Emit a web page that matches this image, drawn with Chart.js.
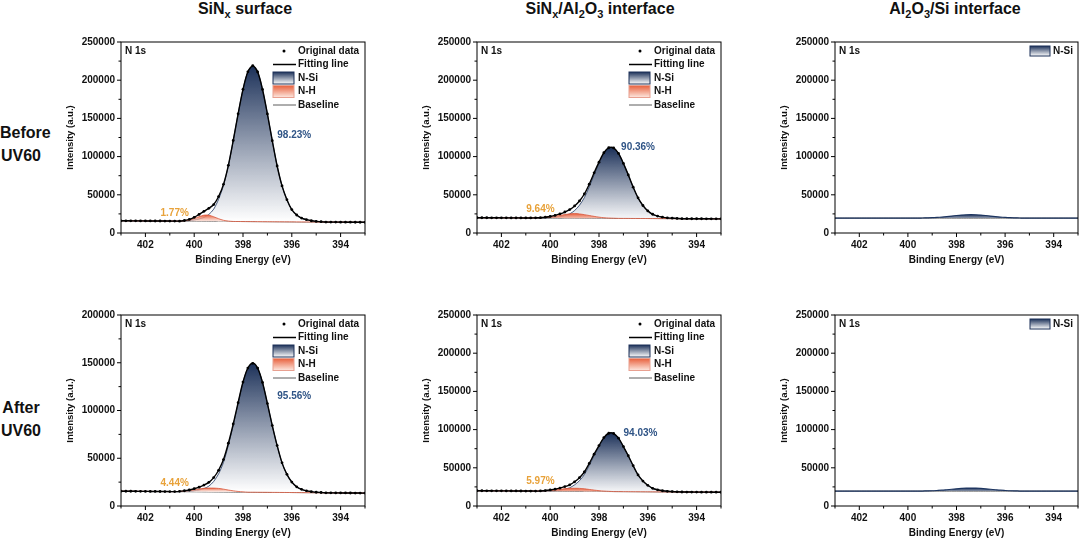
<!DOCTYPE html>
<html><head><meta charset="utf-8">
<script src="https://cdn.jsdelivr.net/npm/chart.js@4"></script>
<style>
body{margin:0;width:1080px;height:540px;background:#fff;font-family:"Liberation Sans",Arial,sans-serif;position:relative;overflow:hidden}
.c{position:absolute}
.t{position:absolute;font-weight:bold;font-size:16px;text-align:center;color:#111}
.r{position:absolute;font-weight:bold;font-size:16px;text-align:center;color:#111;line-height:23px}
sub{font-size:11px}
</style></head><body>
<div class="t" style="left:120px;top:0;width:250px">SiN<sub>x</sub> surface</div>
<div class="t" style="left:470px;top:0;width:260px">SiN<sub>x</sub>/Al<sub>2</sub>O<sub>3</sub> interface</div>
<div class="t" style="left:830px;top:0;width:250px">Al<sub>2</sub>O<sub>3</sub>/Si interface</div>
<div class="r" style="left:0;top:121px;width:42px">Before<br>UV60</div>
<div class="r" style="left:0;top:396px;width:42px">After<br>UV60</div>
<div class="c" style="left:61px;top:30px;width:308px;height:240px"><canvas id="p0"></canvas></div>
<div class="c" style="left:417px;top:30px;width:308px;height:240px"><canvas id="p1"></canvas></div>
<div class="c" style="left:775px;top:30px;width:305px;height:240px"><canvas id="p2"></canvas></div>
<div class="c" style="left:61px;top:303px;width:308px;height:240px"><canvas id="p3"></canvas></div>
<div class="c" style="left:417px;top:303px;width:308px;height:240px"><canvas id="p4"></canvas></div>
<div class="c" style="left:775px;top:303px;width:305px;height:240px"><canvas id="p5"></canvas></div>
<script>
// Binding energy grid (eV), 403 -> 393 step 0.2
const energy = [403,402.8,402.6,402.4,402.2,402,401.8,401.6,401.4,401.2,401,400.8,400.6,400.4,400.2,400,399.8,399.6,399.4,399.2,399,398.8,398.6,398.4,398.2,398,397.8,397.6,397.4,397.2,397,396.8,396.6,396.4,396.2,396,395.8,395.6,395.4,395.2,395,394.8,394.6,394.4,394.2,394,393.8,393.6,393.4,393.2,393];
const xTicks = [402,400,398,396,394];
const z = n => Array(n).fill(0);
// component heights above baseline, thousands of counts
const nsi_before_surface = [...z(13),0.4,0.8,1.6,3,5,9,16,29,47,73,106,141,173,196,204,196,173,141,106,73,47,29,16,9,5,3,1.6,0.8,0.4,...z(9)];
const nh_before_surface  = [...z(13),0.5,1.5,3.5,6,8,8,6,3.5,1.5,0.5,...z(28)];
const nsi_before_interface = [...z(14),0.3,0.6,1.0,1.9,3.3,5.6,10,17,27,41,57,72,85,92,92,85,72,57,41,27,17,10,5.6,3.3,1.9,1.0,0.6,0.3,...z(9)];
const nh_before_interface  = [...z(12),0.2,0.4,0.8,1.5,2.5,3.6,4.7,5.6,6,5.6,4.7,3.6,2.5,1.5,0.8,0.4,0.2,...z(22)];
const nsi_before_alsi = [...z(18),0.15,0.3,0.5,0.9,1.4,2.0,2.7,3.4,4.0,4.4,4.5,4.4,4.0,3.4,2.7,2.0,1.4,0.9,0.5,0.3,0.15,...z(12)];
const nsi_after_surface = [...z(13),0.3,0.5,1.1,1.9,3.4,6,11,19,31,49,70,93,115,130,135,130,115,93,70,49,31,19,11,6,3.4,1.9,1.1,0.5,0.3,...z(9)];
const nh_after_surface  = [...z(12),0.3,0.7,1.3,2.1,3,3.7,4,4,3.7,3,2.1,1.3,0.7,0.3,...z(25)];
const nsi_after_interface = [...z(14),0.2,0.5,0.8,1.5,2.7,4.6,8.5,14,22,34,47,59,70,76,76,70,59,47,34,22,14,8.5,4.6,2.7,1.5,0.8,0.5,0.2,...z(9)];
const nh_after_interface  = [...z(13),0.3,0.6,1.1,1.8,2.6,3.4,3.9,4,3.9,3.4,2.6,1.8,1.1,0.6,0.3,...z(23)];
const nsi_after_alsi = [...z(18),0.1,0.25,0.45,0.8,1.2,1.8,2.4,3.0,3.5,3.9,4.0,3.9,3.5,3.0,2.4,1.8,1.2,0.8,0.45,0.25,0.1,...z(12)];
// baseline ends (thousands) at 403 and 393 eV
const baselines = [[16,14],[20,18.5],[19.5,19.5],[15.5,13.5],[20,18],[19.5,19.5]];
const yMax = [250000,250000,250000,200000,250000,250000];
const pctNSi = ["98.23%","90.36%",null,"95.56%","94.03%",null];
const pctNH = ["1.77%","9.64%",null,"4.44%","5.97%",null];
const pctNSiPos = [[395.9,128000],[396.4,112000],null,[395.9,115000],[396.3,95000]];
const pctNHPos = [[400.8,26000],[400.4,31000],null,[400.8,24000],[400.4,32000]];

const panels = [
 {nsi:nsi_before_surface, nh:nh_before_surface},
 {nsi:nsi_before_interface, nh:nh_before_interface},
 {nsi:nsi_before_alsi, nh:null},
 {nsi:nsi_after_surface, nh:nh_after_surface},
 {nsi:nsi_after_interface, nh:nh_after_interface},
 {nsi:nsi_after_alsi, nh:null},
];
const FONT = "'Liberation Sans', Arial, sans-serif";

function grad(ctx, chart, top, c1, c2){
  const a = chart.chartArea; if(!a) return c1;
  const ys = chart.scales.y;
  const g = ctx.createLinearGradient(0, ys.getPixelForValue(top), 0, ys.getPixelForValue(15000));
  g.addColorStop(0,c1); g.addColorStop(1,c2); return g;
}

panels.forEach((p,k)=>{
  const [b0,b1] = baselines[k];
  const base = energy.map((e,i)=> (b0 + (b1-b0)*i/(energy.length-1))*1000);
  const nsi = p.nsi.map((v,i)=> base[i] + v*1000);
  const nh = p.nh ? p.nh.map((v,i)=> base[i] + v*1000) : null;
  const total = p.nsi.map((v,i)=> base[i] + (v + (p.nh? p.nh[i]:0))*1000);
  const pts = a => a.map((v,i)=>({x:energy[i],y:v}));
  const peak = Math.max(...nsi);
  const ds = [];
  ds.push({label:'Baseline',data:pts(base),borderColor:'#333',borderWidth:0.8,pointRadius:0,fill:false,order:5});
  ds.push({label:'N-Si',data:pts(nsi),borderColor:'#1d3560',borderWidth:p.nh?0.8:1.2,pointRadius:0,
    fill:{target:0},backgroundColor:c=>grad(c.chart.ctx,c.chart,peak,'#1c3159','rgba(255,255,255,0.9)'),order:4});
  if(nh) ds.push({label:'N-H',data:pts(nh),borderColor:'#d9553a',borderWidth:0.8,pointRadius:0,
    fill:{target:0},backgroundColor:c=>grad(c.chart.ctx,c.chart,Math.max(...nh),'#e8603c','rgba(250,220,210,0.6)'),order:3});
  if(p.nh){
    ds.push({label:'Fitting line',data:pts(total),borderColor:'#000',borderWidth:1.4,pointRadius:0,fill:false,order:2});
    ds.push({label:'Original data',data:pts(total),showLine:false,pointRadius:1.4,pointBackgroundColor:'#000',pointBorderWidth:0,order:1});
  }
  const deco = {id:'deco',afterDraw(chart){
    const c=chart.ctx,a=chart.chartArea,xs=chart.scales.x,ys=chart.scales.y;
    c.save();
    c.strokeStyle='#000';c.lineWidth=1;c.strokeRect(a.left,a.top,a.right-a.left,a.bottom-a.top);
    for(let e=403;e>=393;e--){const px=xs.getPixelForValue(e);c.beginPath();c.moveTo(px,a.bottom);c.lineTo(px,a.bottom+(e%2===0?4:2.5));c.stroke();}
    for(let v=0;v<=yMax[k];v+=25000){const py=ys.getPixelForValue(v);c.beginPath();c.moveTo(a.left,py);c.lineTo(a.left-(v%50000===0?4:2.5),py);c.stroke();}
    c.fillStyle='#111';c.font='bold 10px '+FONT;c.textBaseline='middle';c.textAlign='left';
    c.fillText('N 1s',a.left+4,a.top+9);
    if(pctNSi[k]){
      c.textAlign='center';c.fillStyle='#2f5486';c.fillText(pctNSi[k],xs.getPixelForValue(pctNSiPos[k][0]),ys.getPixelForValue(pctNSiPos[k][1]));
      c.fillStyle='#e8a23a';c.fillText(pctNH[k],xs.getPixelForValue(pctNHPos[k][0]),ys.getPixelForValue(pctNHPos[k][1]));
    }
    const lx=a.right-92, ly=a.top+9, tx=lx+25; c.textAlign='left';c.fillStyle='#111';
    const box=(y,c1,c2,bc)=>{const g=c.createLinearGradient(0,y-6,0,y+6);g.addColorStop(0,c1);g.addColorStop(1,c2);c.fillStyle=g;c.fillRect(lx,y-6,21,12);c.strokeStyle=bc;c.lineWidth=1;c.strokeRect(lx,y-6,21,12);};
    if(p.nh){
      c.beginPath();c.arc(lx+11,ly,1.5,0,7);c.fillStyle='#000';c.fill();
      c.fillStyle='#111';c.fillText('Original data',tx,ly);
      c.strokeStyle='#000';c.lineWidth=1.5;c.beginPath();c.moveTo(lx,ly+13.5);c.lineTo(lx+23,ly+13.5);c.stroke();
      c.fillText('Fitting line',tx,ly+13.5);
      box(ly+27,'#1c3159','#ffffff','#1c3159');c.fillStyle='#111';c.fillText('N-Si',tx,ly+27);
      box(ly+40.5,'#e8603c','#fde8e0','#e8a090');c.fillStyle='#111';c.fillText('N-H',tx,ly+40.5);
      c.strokeStyle='#333';c.lineWidth=0.8;c.beginPath();c.moveTo(lx,ly+54);c.lineTo(lx+23,ly+54);c.stroke();
      c.fillText('Baseline',tx,ly+54);
    } else {
      const bx=a.right-48; const g=c.createLinearGradient(0,ly-5,0,ly+5);g.addColorStop(0,'#1c3159');g.addColorStop(1,'#fff');
      c.fillStyle=g;c.fillRect(bx,ly-5,20,10);c.strokeStyle='#1c3159';c.strokeRect(bx,ly-5,20,10);
      c.fillStyle='#111';c.fillText('N-Si',bx+23,ly);
    }
    c.restore();
  }};
  new Chart(document.getElementById('p'+k),{
    type:'line',data:{datasets:ds},
    options:{responsive:true,maintainAspectRatio:false,animation:false,
      layout:{padding:{top:7,right:(k%3===2?2:4),left:0,bottom:0}},
      plugins:{legend:{display:false},tooltip:{enabled:false}},
      elements:{line:{tension:0.3}},
      scales:{
        x:{type:'linear',reverse:true,min:393,max:403,grid:{display:false,drawTicks:false},border:{display:false},
          afterBuildTicks:s=>{s.ticks=xTicks.map(v=>({value:v}));},
          afterFit:s=>{s.height=37;},
          ticks:{color:'#111',font:{family:FONT,size:10,weight:'bold'},padding:6,callback:v=>String(v)},
          title:{display:true,text:'Binding Energy (eV)',color:'#111',font:{family:FONT,size:10,weight:'bold'},padding:{top:2}}},
        y:{min:0,max:yMax[k],grid:{display:false,drawTicks:false},border:{display:false},
          afterFit:s=>{s.width=60;},
          ticks:{stepSize:50000,color:'#111',font:{family:FONT,size:10,weight:'bold'},padding:6,callback:v=>String(v)},
          title:{display:true,text:'Intensity (a.u.)',color:'#111',font:{family:FONT,size:9.5,weight:'bold'},padding:{bottom:2}}}
      }},
    plugins:[deco]
  });
});
</script>
</body></html>
